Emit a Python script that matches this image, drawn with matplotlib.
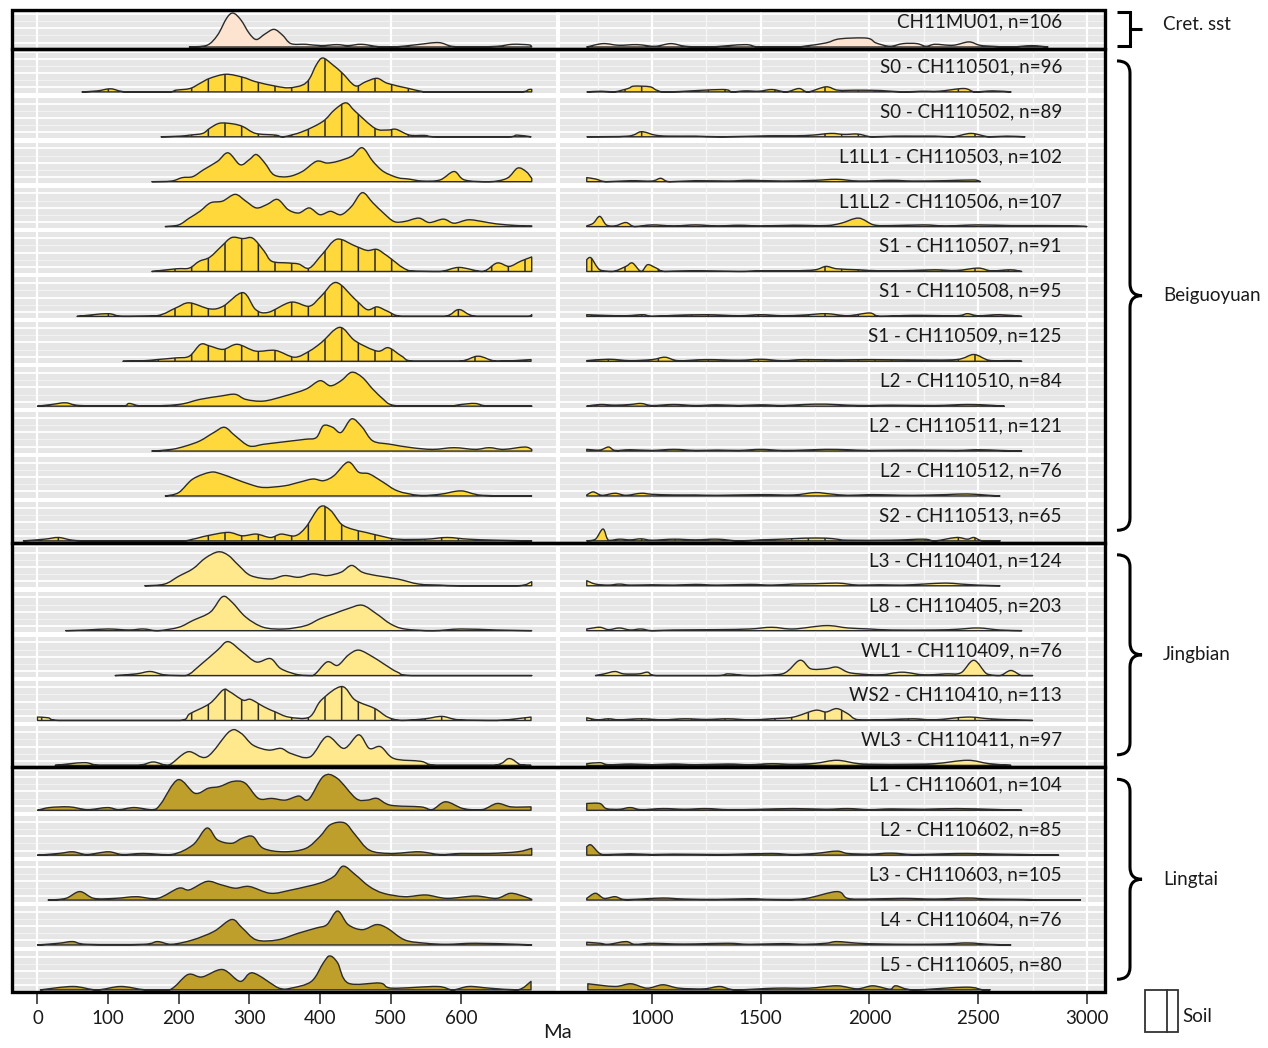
import matplotlib.pyplot as plt
from matplotlib.patches import Rectangle, PathPatch
from matplotlib.path import Path
from matplotlib.lines import Line2D
import matplotlib.transforms as mtransforms

plt.rcParams['font.family'] = ['Lato', 'DejaVu Sans']
plt.rcParams['hatch.linewidth'] = 1.1
plt.rcParams['hatch.color'] = '#2b2b2b'

# Sample labels, top to bottom
labels = [
    "CH11MU01, n=106",
    "S0 - CH110501, n=96", "S0 - CH110502, n=89", "L1LL1 - CH110503, n=102",
    "L1LL2 - CH110506, n=107", "S1 - CH110507, n=91", "S1 - CH110508, n=95",
    "S1 - CH110509, n=125", "L2 - CH110510, n=84", "L2 - CH110511, n=121",
    "L2 - CH110512, n=76", "S2 - CH110513, n=65",
    "L3 - CH110401, n=124", "L8 - CH110405, n=203", "WL1 - CH110409, n=76",
    "WS2 - CH110410, n=113", "WL3 - CH110411, n=97",
    "L1 - CH110601, n=104", "L2 - CH110602, n=85", "L3 - CH110603, n=105",
    "L4 - CH110604, n=76", "L5 - CH110605, n=80",
]
groups = ["Cret. sst", "Beiguoyuan", "Jingbian", "Lingtai"]
group_sizes = [1, 11, 5, 5]
soil = [False, True, True, False, False, True, True, True, False, False, False,
        True, False, False, False, True, False, False, False, False, False, False]
group_colors = ['#fce4d1', '#ffd93b', '#ffe98c', '#bf9f2b']

# Relative density (age in Ma, height scaled to highest peak)
mu01_young = [(215, 0), (240, 0.05), (255, 0.35), (268, 0.85), (277, 1.0), (288, 0.8), (300, 0.4), (310, 0.22),
              (322, 0.38), (335, 0.52), (347, 0.35), (359, 0.1), (380, 0.08), (402, 0.04), (424, 0.07), (440, 0.04),
              (459, 0.08), (483, 0.01), (505, 0.0), (538, 0.07), (568, 0.13), (587, 0.02), (614, 0.0), (651, 0.02),
              (673, 0.08), (697, 0.06), (700, 0.0)]
mu01_old = [(700, 0), (775, 0.1), (848, 0.05), (931, 0.07), (1014, 0.02), (1087, 0.1), (1156, 0.02), (1262, 0.0),
            (1428, 0.07), (1492, 0.0), (1658, 0.0), (1708, 0.03), (1800, 0.12), (1864, 0.24), (1989, 0.26),
            (2030, 0.12), (2094, 0.02), (2154, 0.1), (2218, 0.1), (2260, 0.02), (2301, 0.08), (2384, 0.05),
            (2457, 0.15), (2508, 0.05), (2568, 0.02), (2651, 0.0), (2747, 0.04), (2821, 0.0)]

s0501_young = [(63, 0), (85, 0.03), (104, 0.09), (126, 0.0), (185, 0.0), (196, 0.05), (216, 0.1), (230, 0.25),
               (244, 0.4), (267, 0.52), (291, 0.43), (309, 0.3), (337, 0.17), (356, 0.12), (375, 0.2), (385, 0.38),
               (395, 0.8), (404, 1.0), (418, 0.8), (432, 0.55), (450, 0.18), (465, 0.3), (481, 0.4), (496, 0.25),
               (526, 0.1), (543, 0.02), (554, 0.0), (684, 0.0), (696, 0.07), (700, 0.07)]
s0501_old = [(701, 0), (766, 0.02), (825, 0.0), (890, 0.1), (917, 0.17), (991, 0.15), (1022, 0.05), (1074, 0.0),
             (1322, 0.07), (1368, 0.0), (1428, 0.03), (1492, 0.02), (1552, 0.07), (1616, 0.0), (1676, 0.1),
             (1717, 0.0), (1800, 0.15), (1855, 0.05), (1947, 0.05), (2053, 0.04), (2154, 0.0), (2237, 0.02),
             (2320, 0.02), (2434, 0.1), (2485, 0.0), (2568, 0.03), (2651, 0.0)]

s0502_young = [(175, 0), (202, 0.02), (216, 0.05), (234, 0.1), (244, 0.25), (258, 0.4), (277, 0.38), (291, 0.3),
               (309, 0.1), (337, 0.05), (348, 0.0), (375, 0.15), (404, 0.45), (421, 0.8), (437, 1.0), (450, 0.75),
               (478, 0.25), (496, 0.2), (508, 0.22), (527, 0.05), (549, 0.04), (565, 0.0), (668, 0.0), (679, 0.05),
               (699, 0.0)]
s0502_old = [(701, 0), (890, 0.02), (951, 0.15), (1014, 0.05), (1074, 0.02), (1198, 0.02), (1322, 0.0),
             (1534, 0.03), (1658, 0.03), (1740, 0.05), (1823, 0.1), (1883, 0.07), (1947, 0.08), (2011, 0.0),
             (2113, 0.02), (2218, 0.02), (2301, 0.02), (2384, 0.0), (2467, 0.1), (2549, 0.0), (2632, 0.02),
             (2715, 0.0)]

s0503_young = [(162, 0), (190, 0.02), (205, 0.12), (220, 0.15), (235, 0.35), (255, 0.6), (270, 0.85), (287, 0.5),
               (300, 0.65), (310, 0.8), (322, 0.55), (335, 0.2), (355, 0.15), (375, 0.3), (395, 0.6), (410, 0.55),
               (425, 0.6), (445, 0.75), (460, 1.0), (475, 0.6), (490, 0.3), (510, 0.12), (525, 0.08), (545, 0.02),
               (570, 0.05), (590, 0.3), (605, 0.05), (640, 0.0), (665, 0.1), (680, 0.4), (692, 0.3), (700, 0.1)]
s0503_old = [(700, 0.12), (740, 0.08), (790, 0.0), (900, 0.03), (1000, 0.02), (1040, 0.1), (1080, 0.0),
             (1200, 0.03), (1350, 0.02), (1450, 0.04), (1600, 0.02), (1750, 0.04), (1850, 0.07), (1950, 0.02),
             (2100, 0.04), (2200, 0.02), (2350, 0.03), (2480, 0.05), (2510, 0.0)]

s0506_young = [(181, 0), (200, 0.05), (215, 0.25), (230, 0.45), (245, 0.7), (262, 0.75), (280, 0.95), (295, 0.75),
               (310, 0.55), (325, 0.65), (340, 0.8), (355, 0.5), (370, 0.4), (385, 0.55), (400, 0.35), (415, 0.45),
               (430, 0.35), (445, 0.6), (460, 1.0), (475, 0.7), (490, 0.4), (505, 0.15), (520, 0.15), (540, 0.25),
               (555, 0.12), (575, 0.22), (590, 0.1), (610, 0.2), (630, 0.15), (650, 0.08), (680, 0.03), (700, 0.02)]
s0506_old = [(700, 0.02), (730, 0.1), (760, 0.3), (790, 0.05), (830, 0.02), (880, 0.12), (920, 0.0), (1000, 0.05),
             (1100, 0.02), (1200, 0.05), (1300, 0.02), (1400, 0.04), (1500, 0.02), (1650, 0.04), (1800, 0.03),
             (1870, 0.1), (1950, 0.25), (2020, 0.05), (2100, 0.03), (2250, 0.05), (2350, 0.02), (2500, 0.05),
             (2650, 0.03), (2800, 0.03), (2950, 0.02), (3000, 0.0)]

s0507_young = [(162, 0), (197, 0.08), (215, 0.1), (229, 0.3), (244, 0.42), (261, 0.75), (275, 1.0), (291, 0.97),
               (305, 0.98), (321, 0.6), (332, 0.3), (356, 0.25), (370, 0.22), (385, 0.1), (403, 0.5), (424, 0.95),
               (450, 0.75), (467, 0.62), (481, 0.65), (496, 0.45), (527, 0.02), (570, 0.0), (597, 0.12), (630, 0.0),
               (651, 0.25), (668, 0.15), (684, 0.3), (699, 0.42), (700, 0.42)]
s0507_old = [(700, 0.35), (720, 0.4), (760, 0.05), (820, 0.0), (880, 0.15), (910, 0.25), (950, 0.0), (980, 0.2),
             (1020, 0.1), (1060, 0.0), (1200, 0.02), (1400, 0.0), (1500, 0.02), (1650, 0.02), (1750, 0.05),
             (1800, 0.15), (1850, 0.08), (1950, 0.05), (2050, 0.02), (2200, 0.03), (2300, 0.05), (2400, 0.03),
             (2500, 0.1), (2560, 0.02), (2650, 0.05), (2700, 0.0)]

s0508_young = [(56, 0), (99, 0.08), (120, 0.0), (169, 0.02), (196, 0.25), (215, 0.4), (244, 0.22), (263, 0.3),
               (291, 0.7), (309, 0.2), (327, 0.12), (359, 0.42), (385, 0.3), (402, 0.6), (423, 1.0), (450, 0.5),
               (467, 0.2), (481, 0.28), (496, 0.15), (516, 0.0), (576, 0.0), (597, 0.2), (622, 0.0), (695, 0.0),
               (700, 0.05)]
s0508_old = [(700, 0.05), (780, 0.03), (880, 0.02), (960, 0.05), (1000, 0.0), (1100, 0.03), (1250, 0.05),
             (1400, 0.02), (1500, 0.05), (1600, 0.02), (1700, 0.04), (1800, 0.08), (1900, 0.02), (2000, 0.1),
             (2050, 0.0), (2200, 0.03), (2400, 0.02), (2450, 0.08), (2500, 0.02), (2600, 0.05), (2700, 0.0)]

s0509_young = [(121, 0), (153, 0.02), (169, 0.05), (196, 0.1), (215, 0.15), (231, 0.5), (244, 0.45), (263, 0.35),
               (283, 0.5), (309, 0.3), (337, 0.32), (364, 0.12), (385, 0.3), (402, 0.55), (428, 1.0), (450, 0.6),
               (481, 0.3), (497, 0.4), (516, 0.15), (532, 0.0), (597, 0.0), (624, 0.15), (651, 0.0), (699, 0.05)]
s0509_old = [(700, 0.02), (800, 0.06), (900, 0.02), (1000, 0.05), (1060, 0.12), (1120, 0.02), (1250, 0.05),
             (1400, 0.03), (1500, 0.06), (1600, 0.02), (1700, 0.05), (1850, 0.04), (2000, 0.05), (2200, 0.04),
             (2400, 0.05), (2480, 0.2), (2550, 0.03), (2650, 0.02), (2700, 0.0)]

s0510_young = [(0, 0), (20, 0.05), (40, 0.1), (60, 0.02), (120, 0.0), (130, 0.08), (150, 0.0), (200, 0.05),
               (230, 0.2), (260, 0.3), (280, 0.35), (295, 0.2), (320, 0.15), (350, 0.3), (380, 0.5), (400, 0.75),
               (415, 0.6), (430, 0.75), (445, 1.0), (460, 0.85), (475, 0.5), (490, 0.2), (500, 0.05), (520, 0.0),
               (580, 0.0), (600, 0.05), (620, 0.08), (640, 0.0), (700, 0.0)]
s0510_old = [(700, 0.0), (760, 0.05), (830, 0.03), (900, 0.05), (950, 0.08), (1000, 0.02), (1100, 0.05),
             (1200, 0.02), (1300, 0.04), (1400, 0.02), (1500, 0.04), (1600, 0.02), (1700, 0.05), (1800, 0.06),
             (1900, 0.03), (2000, 0.02), (2100, 0.03), (2300, 0.02), (2450, 0.05), (2550, 0.03), (2620, 0.0)]

s0511_young = [(162, 0), (190, 0.05), (210, 0.15), (230, 0.3), (250, 0.55), (265, 0.7), (280, 0.45), (300, 0.15),
               (320, 0.2), (340, 0.25), (360, 0.3), (380, 0.35), (395, 0.4), (405, 0.75), (418, 0.7), (430, 0.55),
               (445, 0.95), (460, 0.7), (475, 0.3), (500, 0.2), (530, 0.1), (560, 0.05), (590, 0.1), (620, 0.05),
               (640, 0.1), (660, 0.05), (690, 0.12), (700, 0.05)]
s0511_old = [(700, 0.05), (760, 0.03), (800, 0.12), (830, 0.02), (900, 0.04), (1000, 0.02), (1100, 0.05),
             (1200, 0.02), (1300, 0.03), (1400, 0.02), (1500, 0.05), (1600, 0.02), (1700, 0.03), (1800, 0.05),
             (1900, 0.04), (2000, 0.02), (2200, 0.03), (2400, 0.02), (2500, 0.04), (2600, 0.02), (2700, 0.0)]

s0512_young = [(181, 0), (200, 0.1), (220, 0.5), (245, 0.7), (260, 0.65), (280, 0.5), (300, 0.35), (320, 0.25),
               (350, 0.3), (370, 0.4), (390, 0.5), (405, 0.45), (420, 0.6), (440, 1.0), (455, 0.7), (470, 0.65),
               (490, 0.4), (510, 0.15), (540, 0.02), (570, 0.05), (600, 0.15), (630, 0.02), (700, 0.0)]
s0512_old = [(700, 0.03), (730, 0.12), (770, 0.02), (830, 0.08), (880, 0.02), (950, 0.08), (1000, 0.05),
             (1100, 0.03), (1200, 0.03), (1300, 0.02), (1500, 0.04), (1650, 0.03), (1750, 0.1), (1820, 0.06),
             (1900, 0.02), (2000, 0.04), (2100, 0.03), (2200, 0.02), (2350, 0.04), (2450, 0.06), (2550, 0.02),
             (2600, 0.0)]

s0513_young = [(-20, 0), (10, 0.05), (30, 0.1), (50, 0.02), (80, 0.0), (200, 0.0), (220, 0.05), (240, 0.15),
               (270, 0.25), (290, 0.15), (310, 0.2), (330, 0.1), (345, 0.2), (365, 0.15), (380, 0.4), (400, 1.0),
               (415, 0.9), (430, 0.5), (445, 0.35), (465, 0.25), (485, 0.15), (510, 0.05), (550, 0.05), (580, 0.1),
               (610, 0.05), (650, 0.02), (700, 0.0)]
s0513_old = [(700, 0.0), (740, 0.05), (775, 0.35), (800, 0.02), (850, 0.05), (900, 0.03), (950, 0.06),
             (1000, 0.02), (1100, 0.05), (1200, 0.03), (1300, 0.05), (1400, 0.0), (1500, 0.03), (1600, 0.05),
             (1700, 0.08), (1800, 0.08), (1850, 0.05), (1900, 0.02), (2100, 0.02), (2250, 0.05), (2300, 0.0),
             (2400, 0.1), (2450, 0.05), (2480, 0.1), (2520, 0.0), (2600, 0.0)]

s0401_young = [(152, 0), (180, 0.05), (200, 0.28), (220, 0.5), (238, 0.82), (256, 1.0), (270, 0.9), (285, 0.6),
               (302, 0.3), (330, 0.2), (350, 0.3), (370, 0.25), (390, 0.35), (410, 0.3), (430, 0.4), (445, 0.6),
               (460, 0.4), (480, 0.3), (510, 0.2), (540, 0.05), (570, 0.02), (600, 0.0), (680, 0.0), (700, 0.12)]
s0401_old = [(700, 0.15), (740, 0.05), (800, 0.02), (850, 0.05), (900, 0.02), (1000, 0.03), (1100, 0.02),
             (1200, 0.04), (1300, 0.02), (1450, 0.04), (1550, 0.02), (1650, 0.05), (1750, 0.06), (1850, 0.08),
             (1900, 0.05), (1950, 0.02), (2050, 0.03), (2150, 0.02), (2250, 0.05), (2350, 0.08), (2420, 0.05),
             (2500, 0.02), (2600, 0.0)]

s0405_young = [(40, 0), (70, 0.02), (100, 0.05), (130, 0.02), (150, 0.05), (170, 0.0), (200, 0.1), (220, 0.3),
               (245, 0.55), (262, 1.0), (275, 0.85), (295, 0.4), (320, 0.1), (350, 0.05), (380, 0.15), (400, 0.35),
               (420, 0.5), (440, 0.65), (460, 0.75), (480, 0.5), (500, 0.2), (520, 0.05), (560, 0.0), (600, 0.05),
               (650, 0.02), (700, 0.0)]
s0405_old = [(700, 0.05), (760, 0.1), (800, 0.03), (850, 0.08), (900, 0.02), (950, 0.05), (1000, 0.0),
             (1100, 0.02), (1300, 0.03), (1450, 0.05), (1550, 0.1), (1650, 0.05), (1800, 0.15), (1900, 0.08),
             (2000, 0.05), (2100, 0.02), (2300, 0.02), (2400, 0.04), (2500, 0.08), (2600, 0.02), (2700, 0.0)]

s0409_young = [(110, 0), (140, 0.05), (160, 0.12), (180, 0.02), (210, 0.0), (230, 0.3), (255, 0.75), (270, 1.0),
               (290, 0.7), (310, 0.4), (330, 0.5), (345, 0.2), (370, 0.02), (390, 0.0), (410, 0.4), (425, 0.3),
               (440, 0.6), (455, 0.75), (475, 0.55), (490, 0.35), (510, 0.1), (530, 0.0), (700, 0.0)]
s0409_old = [(740, 0), (780, 0.05), (830, 0.12), (870, 0.05), (940, 0.05), (980, 0.1), (1020, 0.0), (1300, 0.0),
             (1350, 0.05), (1450, 0.0), (1600, 0.05), (1680, 0.45), (1730, 0.2), (1800, 0.2), (1850, 0.25),
             (1900, 0.1), (1950, 0.05), (2050, 0.02), (2150, 0.1), (2250, 0.02), (2350, 0.05), (2420, 0.08),
             (2480, 0.45), (2540, 0.05), (2600, 0.0), (2650, 0.15), (2700, 0.0), (2750, 0.0)]

s0410_young = [(0, 0.1), (15, 0.08), (30, 0.0), (202, 0.0), (216, 0.2), (244, 0.5), (263, 0.9), (272, 0.85),
               (291, 0.6), (302, 0.62), (321, 0.4), (337, 0.25), (356, 0.1), (385, 0.1), (402, 0.6), (431, 1.0),
               (450, 0.6), (478, 0.35), (496, 0.1), (516, 0.0), (549, 0.05), (573, 0.12), (597, 0.02), (651, 0.0),
               (699, 0.1)]
s0410_old = [(700, 0.08), (750, 0.02), (800, 0.05), (850, 0.02), (950, 0.05), (1050, 0.02), (1150, 0.05),
             (1250, 0.03), (1350, 0.05), (1450, 0.02), (1550, 0.05), (1650, 0.1), (1750, 0.3), (1800, 0.25),
             (1850, 0.35), (1900, 0.2), (1950, 0.02), (2100, 0.03), (2200, 0.05), (2300, 0.02), (2450, 0.1),
             (2550, 0.05), (2650, 0.02), (2750, 0.0)]

s0411_young = [(25, 0), (66, 0.08), (88, 0.0), (142, 0.0), (164, 0.1), (185, 0.0), (213, 0.4), (240, 0.25),
               (272, 1.0), (288, 0.95), (305, 0.6), (327, 0.45), (345, 0.5), (359, 0.35), (386, 0.25), (410, 0.85),
               (434, 0.5), (455, 0.9), (470, 0.5), (486, 0.55), (505, 0.2), (543, 0.12), (565, 0.0), (646, 0.0),
               (668, 0.2), (684, 0.02), (699, 0.0)]
s0411_old = [(700, 0.05), (760, 0.08), (800, 0.02), (900, 0.04), (1000, 0.02), (1100, 0.04), (1200, 0.02),
             (1350, 0.04), (1450, 0.02), (1550, 0.05), (1650, 0.03), (1750, 0.06), (1850, 0.15), (1950, 0.05),
             (2050, 0.03), (2150, 0.03), (2300, 0.05), (2450, 0.15), (2550, 0.05), (2650, 0.0)]

s0601_young = [(0, 0), (17, 0.08), (45, 0.1), (71, 0.02), (99, 0.08), (115, 0.02), (137, 0.08), (164, 0.02),
               (175, 0.2), (199, 0.9), (223, 0.5), (242, 0.65), (258, 0.7), (277, 0.85), (294, 0.8), (313, 0.35),
               (332, 0.35), (351, 0.3), (370, 0.42), (384, 0.32), (405, 1.0), (424, 0.95), (451, 0.35), (467, 0.3),
               (481, 0.35), (500, 0.15), (543, 0.1), (559, 0.02), (578, 0.25), (603, 0.05), (630, 0.02), (651, 0.2),
               (671, 0.1), (699, 0.1)]
s0601_old = [(700, 0.2), (760, 0.2), (790, 0.05), (850, 0.03), (900, 0.08), (950, 0.02), (1050, 0.05),
             (1150, 0.03), (1250, 0.05), (1350, 0.02), (1500, 0.03), (1650, 0.05), (1800, 0.03), (1900, 0.05),
             (2000, 0.02), (2100, 0.04), (2250, 0.03), (2400, 0.05), (2600, 0.02), (2700, 0.0)]

s0602_young = [(0, 0), (30, 0.05), (50, 0.1), (70, 0.02), (100, 0.1), (120, 0.02), (150, 0.05), (190, 0.02),
               (220, 0.3), (240, 0.8), (255, 0.45), (275, 0.35), (290, 0.5), (305, 0.55), (320, 0.2), (350, 0.1),
               (380, 0.2), (400, 0.55), (415, 0.9), (435, 0.95), (450, 0.6), (470, 0.15), (500, 0.05), (540, 0.1),
               (570, 0.02), (600, 0.05), (640, 0.05), (680, 0.1), (700, 0.2)]
s0602_old = [(700, 0.25), (720, 0.3), (760, 0.05), (800, 0.02), (900, 0.04), (1000, 0.02), (1100, 0.03),
             (1300, 0.02), (1400, 0.03), (1550, 0.05), (1650, 0.02), (1750, 0.05), (1850, 0.12), (1900, 0.05),
             (2000, 0.03), (2100, 0.06), (2200, 0.02), (2350, 0.04), (2450, 0.05), (2600, 0.03), (2700, 0.02),
             (2870, 0.0)]

s0603_young = [(15, 0), (40, 0.05), (60, 0.25), (80, 0.05), (110, 0.05), (140, 0.1), (170, 0.05), (200, 0.35),
               (215, 0.3), (240, 0.55), (260, 0.45), (280, 0.35), (300, 0.4), (330, 0.2), (360, 0.3), (400, 0.5),
               (420, 0.7), (433, 1.0), (450, 0.75), (470, 0.4), (490, 0.2), (520, 0.1), (550, 0.15), (580, 0.05),
               (620, 0.12), (650, 0.05), (670, 0.2), (690, 0.1), (700, 0.02)]
s0603_old = [(700, 0.05), (740, 0.2), (780, 0.05), (830, 0.1), (870, 0.02), (950, 0.03), (1050, 0.06),
             (1150, 0.03), (1300, 0.02), (1450, 0.04), (1550, 0.02), (1700, 0.04), (1850, 0.25), (1900, 0.05),
             (2000, 0.03), (2150, 0.05), (2300, 0.03), (2450, 0.06), (2550, 0.03), (2700, 0.02), (2850, 0.0),
             (2970, 0.0)]

s0604_young = [(0, 0), (30, 0.05), (50, 0.1), (70, 0.02), (150, 0.02), (170, 0.1), (190, 0.02), (220, 0.15),
               (250, 0.4), (275, 0.75), (290, 0.5), (310, 0.15), (340, 0.15), (370, 0.35), (395, 0.5), (410, 0.6),
               (425, 1.0), (440, 0.6), (460, 0.45), (480, 0.6), (495, 0.5), (520, 0.15), (550, 0.05), (580, 0.02),
               (620, 0.05), (680, 0.02), (700, 0.0)]
s0604_old = [(700, 0.08), (760, 0.05), (800, 0.02), (880, 0.1), (920, 0.02), (1000, 0.05), (1100, 0.03),
             (1200, 0.03), (1350, 0.05), (1450, 0.02), (1600, 0.04), (1700, 0.02), (1800, 0.05), (1850, 0.1),
             (1950, 0.05), (2050, 0.03), (2200, 0.02), (2350, 0.03), (2450, 0.06), (2550, 0.02), (2650, 0.0)]

s0605_young = [(4, 0), (50, 0.1), (84, 0.0), (118, 0.1), (153, 0.0), (187, 0.0), (213, 0.45), (233, 0.38),
               (262, 0.6), (287, 0.25), (305, 0.5), (342, 0.05), (359, 0.05), (388, 0.25), (405, 0.8), (414, 1.0),
               (425, 0.8), (440, 0.2), (485, 0.2), (502, 0.05), (566, 0.1), (588, 0.0), (611, 0.1), (640, 0.05),
               (680, 0.0), (699, 0.25)]
s0605_old = [(705, 0.18), (830, 0.1), (903, 0.18), (977, 0.05), (1050, 0.15), (1124, 0.05), (1239, 0.03),
             (1312, 0.1), (1386, 0.0), (1570, 0.05), (1722, 0.05), (1851, 0.12), (1943, 0.03), (2016, 0.12),
             (2094, 0.02), (2122, 0.12), (2205, 0.0), (2444, 0.08), (2522, 0.0), (2554, 0.0)]

young = [mu01_young, s0501_young, s0502_young, s0503_young, s0506_young, s0507_young, s0508_young,
         s0509_young, s0510_young, s0511_young, s0512_young, s0513_young, s0401_young, s0405_young,
         s0409_young, s0410_young, s0411_young, s0601_young, s0602_young, s0603_young, s0604_young,
         s0605_young]
old = [mu01_old, s0501_old, s0502_old, s0503_old, s0506_old, s0507_old, s0508_old, s0509_old, s0510_old,
       s0511_old, s0512_old, s0513_old, s0401_old, s0405_old, s0409_old, s0410_old, s0411_old, s0601_old,
       s0602_old, s0603_old, s0604_old, s0605_old]

young_ticks = [0, 100, 200, 300, 400, 500, 600]
old_ticks = [1000, 1500, 2000, 2500, 3000]

# Layout (pixels of the 1268x1048 figure)
W, H = 1268, 1048


def box(x0, x1, y0, y1):
    return [x0 / W, 1 - y1 / H, (x1 - x0) / W, (y1 - y0) / H]


def ridge(knots, base, peak):
    # smooth outline through the read points (Catmull-Rom as cubic Beziers)
    pts = [(a, base + peak * h) for a, h in knots]
    n = len(pts)
    verts = [(pts[0][0], base), pts[0]]
    codes = [Path.MOVETO, Path.LINETO]
    for i in range(n - 1):
        p0 = pts[max(i - 1, 0)]
        p1, p2 = pts[i], pts[i + 1]
        p3 = pts[min(i + 2, n - 1)]
        c1x = min(max(p1[0] + (p2[0] - p0[0]) / 6, p1[0]), p2[0])
        c2x = min(max(p2[0] - (p3[0] - p1[0]) / 6, p1[0]), p2[0])
        c1y = max(p1[1] + (p2[1] - p0[1]) / 6, base)
        c2y = max(p2[1] - (p3[1] - p1[1]) / 6, base)
        verts += [(c1x, c1y), (c2x, c2y), p2]
        codes += [Path.CURVE4] * 3
    verts += [(pts[-1][0], base), (pts[0][0], base)]
    codes += [Path.LINETO, Path.CLOSEPOLY]
    return Path(verts, codes)


fig = plt.figure(figsize=(W / 100, H / 100), dpi=100)
ax_lo = fig.add_axes(box(12, 556, 10, 993))
ax_hi = fig.add_axes(box(560, 1105, 10, 993))
ax_fr = fig.add_axes(box(12, 1105, 10, 993))

ylim = (-21.07, 0.824)
peak = 0.756
row_color = [group_colors[g] for g, n in enumerate(group_sizes) for _ in range(n)]

for ax in (ax_lo, ax_hi):
    ax.set_ylim(*ylim)
    ax.set_yticks([])
    for s in ax.spines.values():
        s.set_visible(False)
    for r in range(len(labels)):
        base = -r
        ax.axhspan(base - 0.035, base + 0.87, color='#e6e6e6', lw=0, zorder=0)
        for k, f in enumerate([0.1, 0.26, 0.42, 0.58, 0.74]):
            ax.axhline(base + f, color='white' if k % 2 == 0 else '#f3f3f3',
                       lw=1.3 if k % 2 == 0 else 0.7, zorder=0.2)

ax_lo.set_xlim(-36.1, 734.4)
ax_hi.set_xlim(577, 3083)
for g in [0, 500]:
    ax_lo.axvline(g, color='white', lw=1.6, zorder=0.3)
for g in [750, 1250, 1750, 2250, 2750]:
    ax_hi.axvline(g, color='#f6f6f6', lw=0.9, zorder=0.3)
for g in old_ticks:
    ax_hi.axvline(g, color='white', lw=1.6, zorder=0.3)

for r in range(len(labels)):
    base = -r
    for ax, knots in ((ax_lo, young[r]), (ax_hi, old[r])):
        ax.add_patch(PathPatch(ridge(knots, base, peak), facecolor=row_color[r], edgecolor='#2b2b2b',
                               lw=1.0, hatch='|' if soil[r] else None, joinstyle='round', zorder=2))
    tr = mtransforms.blended_transform_factory(ax_hi.transAxes, ax_hi.transData)
    ax_hi.text(0.921, base + 0.56, labels[r], transform=tr, ha='right', va='center',
               fontsize=13.5, color='#1a1a1a', zorder=3)

ax_lo.set_xticks(young_ticks)
ax_hi.set_xticks(old_ticks)
for ax in (ax_lo, ax_hi):
    ax.tick_params(axis='x', length=8, width=1.1, color='#222222', labelsize=13.5,
                   labelcolor='#1a1a1a', pad=4)

# Group frames and braces
ax_fr.set_xlim(12, 1105)
ax_fr.set_ylim(*ylim)
ax_fr.axis('off')
ax_fr.patch.set_visible(False)

start = 0
for g, n in enumerate(group_sizes):
    top = ylim[1] if start == 0 else -(start - 1) - 0.045
    bot = -(start + n - 1) - 0.045
    ax_fr.add_patch(Rectangle((12, bot), 1093, top - bot, fill=False, lw=2.4, ec='black',
                              clip_on=False, zorder=5))
    yt = top - 0.045 if g else top - 0.04
    yb = bot + 0.06
    ym = (yt + yb) / 2
    if g == 0:
        verts = [(1117, yt), (1130, yt), (1130, yb), (1117, yb), (1130, ym), (1142, ym)]
        codes = [Path.MOVETO, Path.LINETO, Path.LINETO, Path.LINETO, Path.MOVETO, Path.LINETO]
        ylab = ym + 0.1
    else:
        c = 0.27
        yt -= 0.22
        yb += 0.22
        verts = [(1117, yt), (1130, yt), (1130, yt - c), (1130, ym + c), (1130, ym), (1142, ym),
                 (1130, ym), (1130, ym - c), (1130, yb + c), (1130, yb), (1117, yb)]
        codes = [Path.MOVETO, Path.CURVE3, Path.CURVE3, Path.LINETO, Path.CURVE3, Path.CURVE3,
                 Path.CURVE3, Path.CURVE3, Path.LINETO, Path.CURVE3, Path.CURVE3]
        ylab = ym
    ax_fr.add_patch(PathPatch(Path(verts, codes), fill=False, lw=2.2, ec='black',
                              capstyle='butt', clip_on=False))
    ax_fr.text(1163, ylab, groups[g], ha='left', va='center', fontsize=13.5, color='#1a1a1a',
               clip_on=False)
    start += n

fig.text(557 / W, 1 - 1033 / H, "Ma", ha='center', va='center', fontsize=14.5, color='#1a1a1a')

# Soil legend
fig.add_artist(Rectangle((1145 / W, 1 - 1032 / H), 33 / W, 42 / H, fill=False, lw=1.3,
                         ec='#333333', transform=fig.transFigure))
fig.add_artist(Line2D([1167 / W, 1167 / W], [1 - 1032 / H, 1 - 990 / H], lw=1.3,
                      color='#333333', transform=fig.transFigure))
fig.text(1182 / W, 1 - 1016 / H, "Soil", ha='left', va='center', fontsize=13.5, color='#1a1a1a')

fig.savefig("out.png", dpi=100)
